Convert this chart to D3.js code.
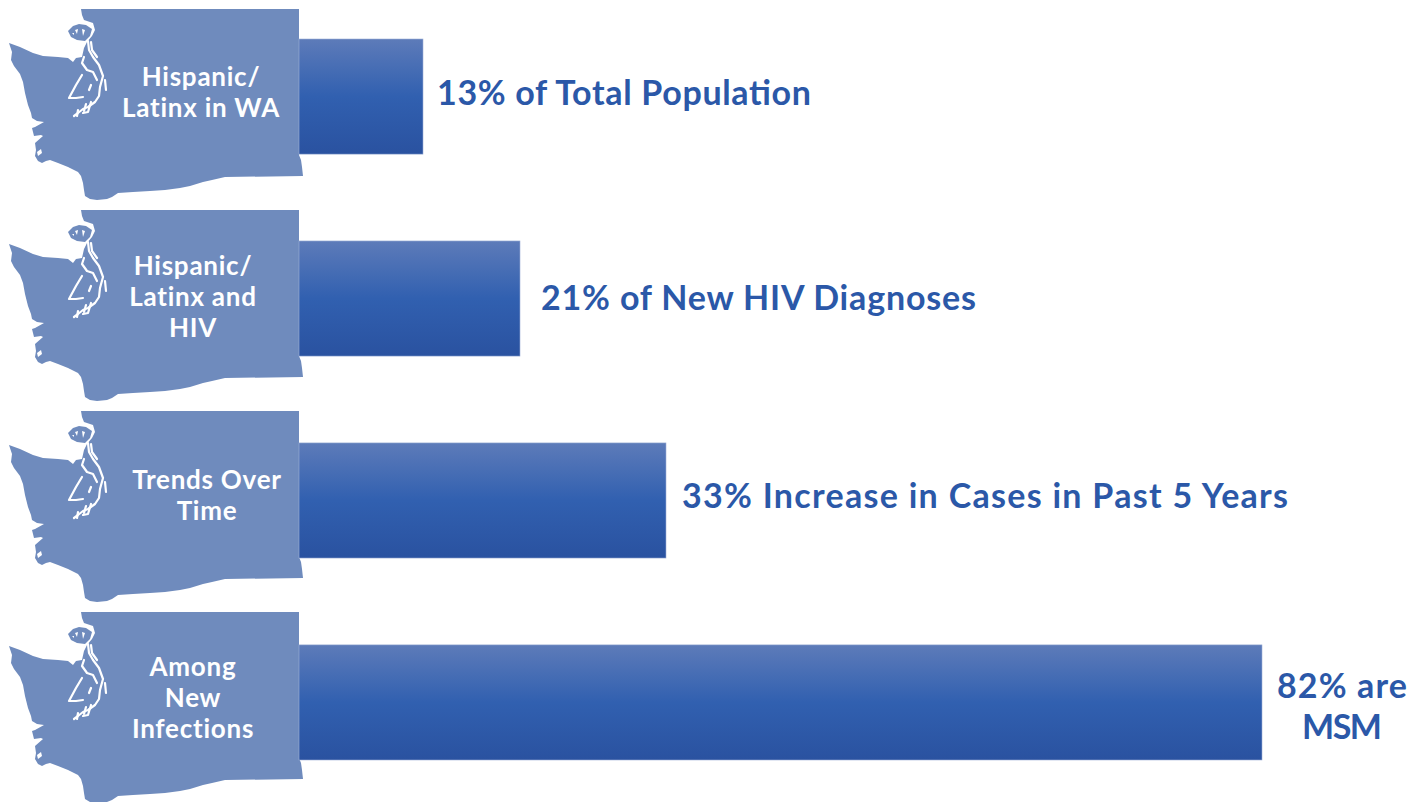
<!DOCTYPE html>
<html><head><meta charset="utf-8">
<script src="https://cdn.jsdelivr.net/npm/d3@7"></script>
<style>html,body{margin:0;background:#fff}svg{display:block}text{font-family:"Lato",sans-serif;font-weight:700}</style>
</head><body><svg id="c" width="1421" height="802"></svg>
<script>
const categories=["Hispanic/ Latinx in WA","Hispanic/ Latinx and HIV","Trends Over Time","Among New Infections"];
const barLengths=[12.4,22.1,36.7,96.3];
const categoryLines=[["Hispanic/","Latinx in WA"],["Hispanic/","Latinx and","HIV"],["Trends Over","Time"],["Among","New","Infections"]];
const valueLines=[["13% of Total Population"],["21% of New HIV Diagnoses"],["33% Increase in Cases in Past 5 Years"],["82% are","MSM"]];

// Washington State silhouette, one copy drawn per category
const outline=[[81,9],[299,9],[299,155],[301,160],[302,167],[303,176],[225,177],[212,180],[203,182],[190,186],[180,188],[165,190],[150,191],[133,192],[118,193],[112,197],[107,199],[97,200],[90,199],[85,196],[84,190],[83,183],[81,176],[78,172],[68,167],[58,163],[50,160],[46,161],[42,163],[38,161],[35,156],[36,150],[35,143],[43,136],[41,135],[34,136],[32,128],[35,127],[44,122],[37,121],[32,118],[31,113],[28,105],[25,93],[23,82],[20,74],[14,66],[11,60],[12,52],[9,43],[20,47],[33,53],[43,56],[58,57],[68,58],[73,62],[76,58],[82,57],[84,48],[87,42],[92,36],[95,30],[93,23],[84,20],[82,15]];
const islands=[[[68,31],[73,26],[79,24],[86,25],[92,29],[90,36],[85,41],[77,40],[71,37]],[[81,62],[87,57],[91,64],[86,68]]];
const specks=[[[75,30],[78,29],[77,34]],[[82,29],[85,30],[83,36]],[[72,33],[74,33],[74,35]]];
const channels=[[[88,41],[89,50],[93,57],[99,65],[103,76],[100,87],[99,96],[95,102],[88,107],[83,109],[78,113],[74,116]],[[91,42],[92,50],[97,57]],[[84,57],[82,63],[87,70],[93,72],[97,80]],[[82,75],[76,85],[69,98],[76,98],[83,97]],[[105,80],[106,90]],[[86,104],[84,111]],[[91,102],[88,112],[83,113]],[[91,85],[89,90]],[[78,110],[77,116]]];
const bays=[[[37,152],[41,149],[42,153],[38,156]]];

const svg=d3.select("#c");
const x=d3.scaleLinear().domain([0,100]).range([299,1299]);
const y=d3.scaleBand().domain(categories).range([39,760]).paddingInner(.43).paddingOuter(0);
const mapY=d3.scalePoint().domain(categories).range([0,603]);
const defs=svg.append("defs");
const g=defs.append("linearGradient").attr("id","bar").attr("x1",0).attr("y1",0).attr("x2",0).attr("y2",1);
[[0,"#5d7bb9"],[.5,"#3160b0"],[1,"#2a52a0"]].forEach(s=>g.append("stop").attr("offset",s[0]).attr("stop-color",s[1]));
const line=d3.line();
const maps=svg.append("g").selectAll("g").data(categories).join("g").attr("transform",d=>`translate(0,${mapY(d)})`);
const mapFill="#6f8bbd";
maps.append("path").attr("d",line(outline)+"Z").attr("fill",mapFill);
maps.selectAll("path.i").data(islands).join("path").attr("class","i").attr("d",d=>line(d)+"Z").attr("fill",mapFill);
maps.selectAll("path.k").data(specks.concat(bays)).join("path").attr("class","k").attr("d",d=>line(d)+"Z").attr("fill","#fff");
maps.selectAll("path.c").data(channels).join("path").attr("class","c").attr("d",d=>line(d)).attr("fill","none").attr("stroke","#fff").attr("stroke-width",2.2).attr("stroke-linejoin","round").attr("stroke-linecap","round");
svg.append("g").selectAll("rect").data(categories).join("rect")
 .attr("x",x(0)).attr("y",d=>y(d)).attr("height",y.bandwidth()).attr("width",(d,i)=>x(barLengths[i])-x(0))
 .attr("fill","url(#bar)").attr("stroke","#9db0d6").attr("stroke-width",.6);
const catX=[201,193,207,193], catY=[86,74,87,73];
const valX=[437,541,682,1342], valY=[66,69,65,53], valW=[[374],[435],[606],[130,80]];
maps.each(function(d,i){
 d3.select(this).selectAll("text").data(categoryLines[i]).join("text")
  .attr("x",catX[i]).attr("y",(t,j)=>catY[i]+j*31).attr("text-anchor","middle").attr("fill","#fff").attr("font-size",26).attr("letter-spacing",.75).text(t=>t);
});
svg.append("g").selectAll("g").data(categories).join("g").each(function(d,i){
 d3.select(this).selectAll("text").data(valueLines[i]).join("text")
  .attr("x",valX[i]).attr("y",(t,j)=>y(d)+valY[i]+j*41).attr("text-anchor",i==3?"middle":"start")
  .attr("textLength",(t,j)=>valW[i][j]).attr("lengthAdjust","spacing")
  .attr("fill","#2b58a8").attr("font-size",34).text(t=>t);
});
</script></body></html>
